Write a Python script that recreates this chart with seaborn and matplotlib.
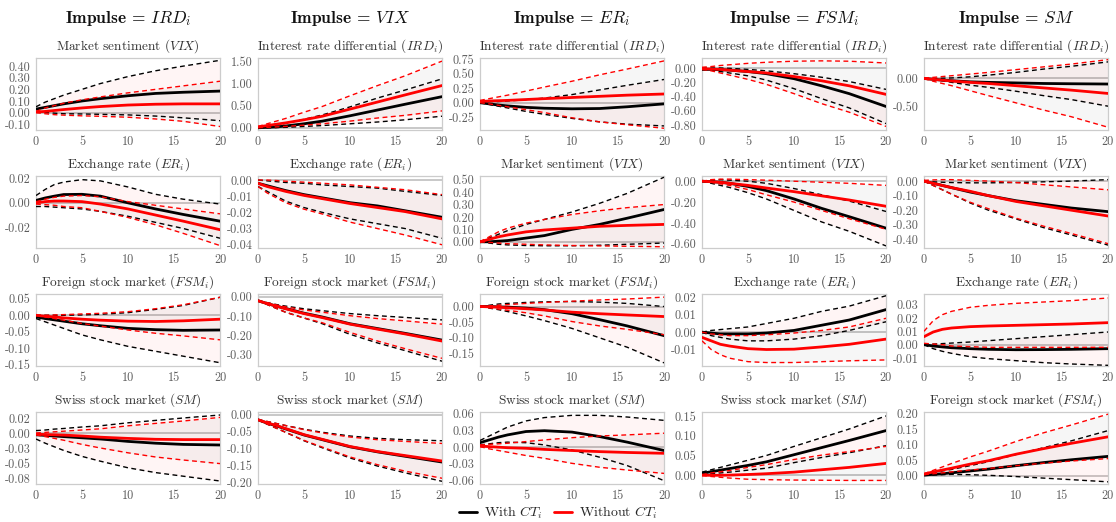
import numpy as np
import pandas as pd
import matplotlib
matplotlib.use("Agg")
import matplotlib.pyplot as plt
from matplotlib.lines import Line2D
from matplotlib.ticker import FixedLocator, FixedFormatter
import seaborn as sns

sns.set_style("white")
plt.rcParams["font.family"] = ["cmr10", "DejaVu Serif"]
plt.rcParams["mathtext.fontset"] = "cm"
plt.rcParams["axes.unicode_minus"] = False

# ---------------- data ----------------
HORIZON = [0, 1, 2, 3, 5, 7, 10, 13, 16, 20]
IMPULSES = [r"$IRD_i$", r"$VIX$", r"$ER_i$", r"$FSM_i$", r"$SM$"]
SERIES = ["With $CT_i$", "Without $CT_i$"]

TITLES = [
    ["Market sentiment ($VIX$)", "Interest rate differential ($IRD_i$)", "Interest rate differential ($IRD_i$)",
     "Interest rate differential ($IRD_i$)", "Interest rate differential ($IRD_i$)"],
    ["Exchange rate ($ER_i$)", "Exchange rate ($ER_i$)", "Market sentiment ($VIX$)",
     "Market sentiment ($VIX$)", "Market sentiment ($VIX$)"],
    ["Foreign stock market ($FSM_i$)", "Foreign stock market ($FSM_i$)", "Foreign stock market ($FSM_i$)",
     "Exchange rate ($ER_i$)", "Exchange rate ($ER_i$)"],
    ["Swiss stock market ($SM$)", "Swiss stock market ($SM$)", "Swiss stock market ($SM$)",
     "Swiss stock market ($SM$)", "Foreign stock market ($FSM_i$)"],
]

# Row 1
R1C1_W_LO = [0.01, 0.0, -0.005, -0.01, -0.012, -0.015, -0.02, -0.03, -0.045, -0.07]
R1C1_W_MED = [0.03, 0.045, 0.06, 0.075, 0.10, 0.12, 0.145, 0.165, 0.175, 0.185]
R1C1_W_HI = [0.05, 0.09, 0.12, 0.15, 0.20, 0.25, 0.31, 0.36, 0.40, 0.45]
R1C1_WO_LO = [0.0, -0.01, -0.018, -0.022, -0.028, -0.032, -0.04, -0.055, -0.075, -0.12]
R1C1_WO_MED = [0.005, 0.01, 0.018, 0.026, 0.04, 0.052, 0.065, 0.072, 0.075, 0.075]
R1C1_WO_HI = [0.01, 0.04, 0.06, 0.08, 0.11, 0.135, 0.17, 0.20, 0.23, 0.27]

R1C2_W_LO = [0.0, 0.0, 0.005, 0.01, 0.03, 0.05, 0.09, 0.13, 0.18, 0.26]
R1C2_W_MED = [0.0, 0.01, 0.02, 0.04, 0.09, 0.15, 0.27, 0.40, 0.53, 0.70]
R1C2_W_HI = [0.01, 0.03, 0.06, 0.10, 0.19, 0.29, 0.47, 0.67, 0.85, 1.10]
R1C2_WO_LO = [0.0, 0.01, 0.02, 0.03, 0.06, 0.09, 0.15, 0.22, 0.28, 0.38]
R1C2_WO_MED = [0.02, 0.05, 0.08, 0.11, 0.18, 0.26, 0.42, 0.58, 0.74, 0.95]
R1C2_WO_HI = [0.03, 0.09, 0.15, 0.21, 0.35, 0.48, 0.72, 0.95, 1.17, 1.50]

R1C3_W_LO = [0.0, -0.03, -0.06, -0.09, -0.15, -0.20, -0.27, -0.33, -0.37, -0.40]
R1C3_W_MED = [0.0, -0.02, -0.04, -0.055, -0.08, -0.095, -0.105, -0.10, -0.07, -0.02]
R1C3_W_HI = [0.02, 0.02, 0.02, 0.03, 0.05, 0.08, 0.14, 0.22, 0.30, 0.40]
R1C3_WO_LO = [0.0, -0.02, -0.045, -0.07, -0.12, -0.17, -0.26, -0.33, -0.38, -0.44]
R1C3_WO_MED = [0.02, 0.03, 0.035, 0.04, 0.055, 0.07, 0.09, 0.11, 0.13, 0.15]
R1C3_WO_HI = [0.04, 0.07, 0.10, 0.13, 0.20, 0.27, 0.37, 0.48, 0.58, 0.72]

R1C4_W_LO = [-0.02, -0.03, -0.05, -0.07, -0.11, -0.17, -0.29, -0.43, -0.56, -0.78]
R1C4_W_MED = [-0.02, -0.02, -0.025, -0.03, -0.05, -0.08, -0.15, -0.25, -0.36, -0.54]
R1C4_W_HI = [0.0, 0.0, 0.0, -0.005, -0.02, -0.04, -0.08, -0.13, -0.19, -0.30]
R1C4_WO_LO = [-0.02, -0.04, -0.07, -0.10, -0.16, -0.23, -0.36, -0.50, -0.62, -0.82]
R1C4_WO_MED = [-0.01, -0.015, -0.02, -0.03, -0.05, -0.07, -0.12, -0.18, -0.25, -0.37]
R1C4_WO_HI = [0.01, 0.02, 0.035, 0.045, 0.065, 0.08, 0.095, 0.10, 0.095, 0.07]

R1C5_W_LO = [0.0, -0.02, -0.04, -0.07, -0.12, -0.16, -0.23, -0.31, -0.38, -0.50]
R1C5_W_MED = [0.0, -0.015, -0.03, -0.04, -0.06, -0.07, -0.08, -0.09, -0.095, -0.10]
R1C5_W_HI = [0.0, 0.0, 0.005, 0.01, 0.03, 0.06, 0.11, 0.17, 0.22, 0.30]
R1C5_WO_LO = [0.0, -0.05, -0.09, -0.13, -0.22, -0.31, -0.44, -0.57, -0.69, -0.88]
R1C5_WO_MED = [0.0, -0.015, -0.03, -0.045, -0.07, -0.09, -0.13, -0.17, -0.21, -0.27]
R1C5_WO_HI = [0.01, 0.02, 0.035, 0.05, 0.08, 0.11, 0.16, 0.21, 0.26, 0.34]

# Row 2
R2C1_W_LO = [-0.003, -0.003, -0.0035, -0.004, -0.005, -0.007, -0.011, -0.016, -0.021, -0.029]
R2C1_W_MED = [0.002, 0.004, 0.0055, 0.0068, 0.007, 0.0055, 0.0, -0.005, -0.0095, -0.015]
R2C1_W_HI = [0.006, 0.011, 0.015, 0.017, 0.019, 0.018, 0.013, 0.007, 0.003, -0.001]
R2C1_WO_LO = [-0.001, -0.0015, -0.002, -0.003, -0.004, -0.007, -0.012, -0.018, -0.025, -0.035]
R2C1_WO_MED = [0.0, 0.001, 0.0015, 0.0015, 0.001, -0.001, -0.005, -0.010, -0.015, -0.022]
R2C1_WO_HI = [0.001, 0.003, 0.0045, 0.0055, 0.006, 0.005, 0.001, -0.002, -0.005, -0.009]

R2C2_W_LO = [-0.004, -0.007, -0.010, -0.013, -0.017, -0.020, -0.024, -0.027, -0.030, -0.036]
R2C2_W_MED = [-0.002, -0.0035, -0.005, -0.0065, -0.009, -0.011, -0.014, -0.016, -0.019, -0.023]
R2C2_W_HI = [0.0, -0.0005, -0.001, -0.0015, -0.002, -0.003, -0.004, -0.005, -0.007, -0.0095]
R2C2_WO_LO = [-0.004, -0.008, -0.011, -0.014, -0.018, -0.021, -0.026, -0.030, -0.034, -0.040]
R2C2_WO_MED = [-0.002, -0.004, -0.0055, -0.007, -0.0095, -0.0115, -0.0145, -0.017, -0.0195, -0.024]
R2C2_WO_HI = [0.0, 0.0, -0.0003, -0.0007, -0.0013, -0.002, -0.003, -0.0045, -0.006, -0.009]

R2C3_W_LO = [0.0, -0.01, -0.02, -0.025, -0.03, -0.032, -0.032, -0.028, -0.02, -0.01]
R2C3_W_MED = [0.0, 0.0, 0.005, 0.01, 0.03, 0.05, 0.10, 0.14, 0.19, 0.26]
R2C3_W_HI = [0.0, 0.03, 0.06, 0.09, 0.14, 0.18, 0.24, 0.31, 0.39, 0.52]
R2C3_WO_LO = [0.0, -0.005, -0.01, -0.015, -0.02, -0.025, -0.03, -0.033, -0.036, -0.04]
R2C3_WO_MED = [0.0, 0.02, 0.04, 0.055, 0.08, 0.095, 0.11, 0.125, 0.132, 0.14]
R2C3_WO_HI = [0.0, 0.04, 0.08, 0.11, 0.15, 0.18, 0.22, 0.25, 0.275, 0.30]

R2C4_W_LO = [0.0, -0.02, -0.04, -0.06, -0.11, -0.17, -0.28, -0.39, -0.48, -0.62]
R2C4_W_MED = [0.0, -0.005, -0.01, -0.02, -0.05, -0.09, -0.17, -0.26, -0.34, -0.45]
R2C4_W_HI = [0.0, 0.01, 0.015, 0.01, 0.0, -0.02, -0.07, -0.13, -0.19, -0.29]
R2C4_WO_LO = [0.0, -0.01, -0.025, -0.04, -0.08, -0.13, -0.20, -0.28, -0.36, -0.46]
R2C4_WO_MED = [0.0, -0.005, -0.01, -0.02, -0.04, -0.065, -0.10, -0.14, -0.18, -0.24]
R2C4_WO_HI = [0.0, 0.015, 0.02, 0.02, 0.015, 0.01, 0.0, -0.01, -0.02, -0.04]

R2C5_W_LO = [0.0, -0.03, -0.06, -0.09, -0.15, -0.20, -0.26, -0.32, -0.37, -0.44]
R2C5_W_MED = [0.0, -0.015, -0.03, -0.045, -0.075, -0.10, -0.135, -0.16, -0.185, -0.21]
R2C5_W_HI = [0.0, -0.005, -0.008, -0.01, -0.012, -0.012, -0.01, -0.005, 0.0, 0.01]
R2C5_WO_LO = [0.0, -0.03, -0.06, -0.09, -0.145, -0.19, -0.255, -0.31, -0.36, -0.43]
R2C5_WO_MED = [0.0, -0.015, -0.03, -0.045, -0.07, -0.10, -0.14, -0.17, -0.20, -0.24]
R2C5_WO_HI = [0.005, 0.008, 0.01, 0.01, 0.005, 0.0, -0.01, -0.025, -0.04, -0.06]

# Row 3
R3C1_W_LO = [-0.01, -0.02, -0.03, -0.04, -0.06, -0.075, -0.095, -0.11, -0.125, -0.145]
R3C1_W_MED = [-0.005, -0.01, -0.014, -0.018, -0.026, -0.032, -0.04, -0.044, -0.046, -0.045]
R3C1_W_HI = [0.0, 0.0, 0.0, 0.0, 0.001, 0.003, 0.008, 0.018, 0.03, 0.055]
R3C1_WO_LO = [0.0, -0.005, -0.01, -0.015, -0.025, -0.033, -0.045, -0.055, -0.063, -0.075]
R3C1_WO_MED = [0.0, -0.003, -0.005, -0.008, -0.012, -0.015, -0.018, -0.019, -0.017, -0.012]
R3C1_WO_HI = [0.0, 0.0, 0.001, 0.002, 0.004, 0.006, 0.011, 0.02, 0.032, 0.055]

R3C2_W_LO = [-0.02, -0.04, -0.06, -0.08, -0.11, -0.14, -0.195, -0.24, -0.28, -0.335]
R3C2_W_MED = [-0.02, -0.035, -0.048, -0.06, -0.085, -0.105, -0.14, -0.165, -0.19, -0.225]
R3C2_W_HI = [-0.02, -0.03, -0.04, -0.048, -0.062, -0.072, -0.087, -0.098, -0.107, -0.12]
R3C2_WO_LO = [-0.02, -0.04, -0.06, -0.08, -0.11, -0.135, -0.185, -0.23, -0.27, -0.32]
R3C2_WO_MED = [-0.02, -0.035, -0.048, -0.062, -0.087, -0.108, -0.142, -0.168, -0.193, -0.23]
R3C2_WO_HI = [-0.02, -0.03, -0.042, -0.052, -0.068, -0.08, -0.098, -0.113, -0.125, -0.142]

R3C3_W_LO = [0.0, -0.005, -0.01, -0.016, -0.03, -0.045, -0.07, -0.10, -0.13, -0.18]
R3C3_W_MED = [0.0, 0.0, -0.001, -0.002, -0.005, -0.01, -0.023, -0.042, -0.062, -0.093]
R3C3_W_HI = [0.0, 0.004, 0.008, 0.01, 0.013, 0.015, 0.016, 0.014, 0.01, 0.0]
R3C3_WO_LO = [0.0, -0.004, -0.008, -0.012, -0.02, -0.03, -0.048, -0.062, -0.073, -0.09]
R3C3_WO_MED = [0.0, -0.001, -0.002, -0.004, -0.007, -0.011, -0.018, -0.023, -0.027, -0.032]
R3C3_WO_HI = [0.0, 0.002, 0.004, 0.006, 0.01, 0.013, 0.017, 0.021, 0.024, 0.03]

R3C4_W_LO = [0.0, -0.002, -0.003, -0.004, -0.005, -0.005, -0.004, -0.002, 0.001, 0.006]
R3C4_W_MED = [0.0, -0.0005, -0.001, -0.001, -0.001, -0.0005, 0.001, 0.004, 0.007, 0.013]
R3C4_W_HI = [0.0, 0.001, 0.0015, 0.002, 0.003, 0.005, 0.008, 0.012, 0.015, 0.021]
R3C4_WO_LO = [-0.005, -0.01, -0.013, -0.015, -0.017, -0.0175, -0.0175, -0.017, -0.0165, -0.016]
R3C4_WO_MED = [-0.003, -0.005, -0.007, -0.008, -0.0095, -0.01, -0.0098, -0.0085, -0.007, -0.004]
R3C4_WO_HI = [0.0, -0.001, -0.0015, -0.002, -0.002, -0.0015, -0.0005, 0.001, 0.003, 0.008]

R3C5_W_LO = [0.0, -0.003, -0.005, -0.0065, -0.009, -0.0105, -0.012, -0.0135, -0.0145, -0.0155]
R3C5_W_MED = [0.0, -0.001, -0.0017, -0.0023, -0.003, -0.0035, -0.0038, -0.0037, -0.0035, -0.003]
R3C5_W_HI = [0.0, 0.0004, 0.0008, 0.0012, 0.002, 0.003, 0.0045, 0.006, 0.0075, 0.0095]
R3C5_WO_LO = [0.001, 0.0005, 0.0, -0.001, -0.0015, -0.002, -0.002, -0.002, -0.002, -0.002]
R3C5_WO_MED = [0.006, 0.0095, 0.0115, 0.0125, 0.0135, 0.014, 0.0145, 0.015, 0.0155, 0.0165]
R3C5_WO_HI = [0.01, 0.018, 0.0225, 0.025, 0.028, 0.0295, 0.031, 0.032, 0.033, 0.035]

# Row 4
R4C1_W_LO = [-0.01, -0.017, -0.023, -0.029, -0.039, -0.047, -0.058, -0.066, -0.072, -0.08]
R4C1_W_MED = [-0.003, -0.004, -0.005, -0.006, -0.008, -0.01, -0.014, -0.017, -0.019, -0.02]
R4C1_W_HI = [0.004, 0.005, 0.0065, 0.0075, 0.01, 0.012, 0.017, 0.021, 0.025, 0.03]
R4C1_WO_LO = [-0.003, -0.006, -0.009, -0.012, -0.019, -0.025, -0.033, -0.04, -0.045, -0.051]
R4C1_WO_MED = [-0.002, -0.0025, -0.003, -0.0035, -0.005, -0.007, -0.009, -0.0105, -0.011, -0.011]
R4C1_WO_HI = [0.0, 0.001, 0.002, 0.003, 0.005, 0.007, 0.012, 0.016, 0.02, 0.026]

R4C2_W_LO = [-0.015, -0.028, -0.04, -0.052, -0.077, -0.098, -0.128, -0.152, -0.172, -0.197]
R4C2_W_MED = [-0.015, -0.025, -0.033, -0.042, -0.06, -0.074, -0.095, -0.11, -0.123, -0.14]
R4C2_W_HI = [-0.015, -0.02, -0.026, -0.032, -0.043, -0.052, -0.063, -0.07, -0.074, -0.077]
R4C2_WO_LO = [-0.015, -0.028, -0.04, -0.052, -0.076, -0.096, -0.125, -0.148, -0.167, -0.188]
R4C2_WO_MED = [-0.015, -0.024, -0.032, -0.041, -0.059, -0.073, -0.094, -0.109, -0.121, -0.137]
R4C2_WO_HI = [-0.015, -0.02, -0.026, -0.032, -0.044, -0.054, -0.066, -0.074, -0.079, -0.085]

R4C3_W_LO = [0.004, 0.006, 0.008, 0.009, 0.008, 0.004, -0.005, -0.018, -0.033, -0.06]
R4C3_W_MED = [0.008, 0.013, 0.018, 0.022, 0.028, 0.0295, 0.027, 0.019, 0.009, -0.006]
R4C3_W_HI = [0.012, 0.02, 0.028, 0.036, 0.047, 0.053, 0.057, 0.057, 0.054, 0.048]
R4C3_WO_LO = [0.001, -0.003, -0.006, -0.009, -0.015, -0.02, -0.029, -0.036, -0.041, -0.047]
R4C3_WO_MED = [0.002, 0.001, 0.0, -0.001, -0.002, -0.004, -0.006, -0.008, -0.0095, -0.011]
R4C3_WO_HI = [0.004, 0.005, 0.006, 0.007, 0.01, 0.013, 0.017, 0.02, 0.022, 0.025]

R4C4_W_LO = [0.002, 0.004, 0.006, 0.008, 0.013, 0.018, 0.032, 0.045, 0.057, 0.075]
R4C4_W_MED = [0.005, 0.009, 0.013, 0.017, 0.025, 0.034, 0.052, 0.07, 0.088, 0.113]
R4C4_W_HI = [0.008, 0.014, 0.02, 0.026, 0.038, 0.05, 0.073, 0.095, 0.117, 0.15]
R4C4_WO_LO = [0.0, -0.003, -0.005, -0.007, -0.01, -0.011, -0.012, -0.0125, -0.013, -0.013]
R4C4_WO_MED = [0.0, 0.0, 0.0, 0.0005, 0.002, 0.004, 0.008, 0.014, 0.02, 0.03]
R4C4_WO_HI = [0.002, 0.006, 0.009, 0.012, 0.02, 0.027, 0.04, 0.051, 0.06, 0.073]

R4C5_W_LO = [0.0, 0.002, 0.003, 0.004, 0.003, 0.001, -0.003, -0.008, -0.013, -0.02]
R4C5_W_MED = [0.002, 0.004, 0.006, 0.009, 0.015, 0.021, 0.032, 0.042, 0.051, 0.062]
R4C5_W_HI = [0.004, 0.01, 0.015, 0.02, 0.032, 0.045, 0.068, 0.09, 0.112, 0.145]
R4C5_WO_LO = [0.003, 0.006, 0.009, 0.012, 0.018, 0.023, 0.032, 0.04, 0.047, 0.055]
R4C5_WO_MED = [0.005, 0.012, 0.018, 0.024, 0.037, 0.048, 0.069, 0.087, 0.104, 0.125]
R4C5_WO_HI = [0.006, 0.017, 0.028, 0.039, 0.06, 0.079, 0.11, 0.138, 0.163, 0.198]

# y-axis ticks / limits per panel
YTICKS = [
    [[-0.1, 0.0, 0.1, 0.2, 0.3, 0.4], [0.0, 0.5, 1.0, 1.5], [-0.25, 0.0, 0.25, 0.5, 0.75],
     [-0.8, -0.6, -0.4, -0.2, 0.0], [-0.5, 0.0]],
    [[-0.02, 0.0, 0.02], [-0.04, -0.03, -0.02, -0.01, 0.0], [0.0, 0.1, 0.2, 0.3, 0.4, 0.5],
     [-0.6, -0.4, -0.2, 0.0], [-0.4, -0.3, -0.2, -0.1, 0.0]],
    [[-0.15, -0.1, -0.05, 0.0, 0.05], [-0.3, -0.2, -0.1, 0.0], [-0.15, -0.1, -0.05, 0.0],
     [-0.01, 0.0, 0.01, 0.02], [-0.01, 0.0, 0.01, 0.02, 0.03]],
    [[-0.075, -0.05, -0.025, 0.0, 0.025], [-0.2, -0.15, -0.1, -0.05, 0.0], [-0.06, -0.03, 0.0, 0.03, 0.06],
     [0.0, 0.05, 0.1, 0.15], [0.0, 0.05, 0.1, 0.15, 0.2]],
]
R4C1_YLABELS = ["-0.08", "-0.05", "-0.03", "0.00", "0.02"]
YLIMS = [
    [(-0.15, 0.47), (-0.05, 1.57), (-0.47, 0.77), (-0.87, 0.14), (-0.93, 0.37)],
    [(-0.037, 0.022), (-0.042, 0.0025), (-0.05, 0.53), (-0.64, 0.05), (-0.46, 0.035)],
    [(-0.155, 0.065), (-0.36, 0.015), (-0.19, 0.04), (-0.0195, 0.022), (-0.016, 0.038)],
    [(-0.085, 0.035), (-0.205, 0.008), (-0.066, 0.063), (-0.022, 0.16), (-0.027, 0.205)],
]
XTICKS = [0, 5, 10, 15, 20]

# ---------------- figure ----------------
W, H = 1116, 522
fig = plt.figure(figsize=(W / 100, H / 100), dpi=100)

COL_LEFT = [36, 258, 480, 702, 924]
AX_W = 184
ROW_TOP = [58, 176, 294, 412]
AX_H = 72

BLACK = "#000000"
RED = "#ff0000"
GRID = "#c8c8c8"
TICKC = "#5c5c5c"

for r in range(4):
    for c in range(5):
        key = f"R{r+1}C{c+1}"
        g = globals()
        w_lo, w_med, w_hi = g[key + "_W_LO"], g[key + "_W_MED"], g[key + "_W_HI"]
        o_lo, o_med, o_hi = g[key + "_WO_LO"], g[key + "_WO_MED"], g[key + "_WO_HI"]

        ax = fig.add_axes([COL_LEFT[c] / W, 1 - (ROW_TOP[r] + AX_H) / H, AX_W / W, AX_H / H])
        ax.axhline(0, color=GRID, lw=1.4, zorder=1)
        ax.fill_between(HORIZON, w_lo, w_hi, color="red", alpha=0.04, lw=0, zorder=1)
        ax.fill_between(HORIZON, o_lo, o_hi, color="black", alpha=0.035, lw=0, zorder=1)

        frames = []
        for model, vals in ((SERIES[0], (w_lo, w_med, w_hi)), (SERIES[1], (o_lo, o_med, o_hi))):
            for kind, v in zip(("lo", "med", "hi"), vals):
                frames.append(pd.DataFrame({"h": HORIZON, "value": v, "model": model, "kind": kind}))
        df = pd.concat(frames, ignore_index=True)

        sns.lineplot(data=df, x="h", y="value", hue="model", style="kind", size="kind",
                     hue_order=SERIES, style_order=["med", "lo", "hi"],
                     palette={SERIES[0]: BLACK, SERIES[1]: RED},
                     dashes={"med": "", "lo": (3.5, 2.5), "hi": (3.5, 2.5)},
                     sizes={"med": 2.0, "lo": 1.0, "hi": 1.0},
                     estimator=None, legend=False, ax=ax, zorder=3)

        ax.set_xlim(0, 20)
        ax.set_ylim(*YLIMS[r][c])
        ax.xaxis.set_major_locator(FixedLocator(XTICKS))
        ax.xaxis.set_major_formatter(FixedFormatter([str(t) for t in XTICKS]))
        yt = YTICKS[r][c]
        ax.yaxis.set_major_locator(FixedLocator(yt))
        if (r, c) == (3, 0):
            ax.yaxis.set_major_formatter(FixedFormatter(R4C1_YLABELS))
        else:
            ax.yaxis.set_major_formatter(FixedFormatter([f"{t:.2f}" for t in yt]))
        ax.set_xlabel("")
        ax.set_ylabel("")
        ax.tick_params(axis="both", labelsize=8.8, colors=TICKC, length=2, width=0.6, pad=2)
        for sp in ax.spines.values():
            sp.set_color("#cccccc")
            sp.set_linewidth(0.9)
        ax.set_title(TITLES[r][c], fontsize=9.6, color="#333333", pad=6)

        if r == 0:
            fig.text((COL_LEFT[c] + AX_W / 2) / W, 1 - 18 / H, "Impulse = " + IMPULSES[c],
                     ha="center", va="center", fontsize=12.5, family="cmb10", color="#111111")

handles = [Line2D([0], [0], color=BLACK, lw=2.0), Line2D([0], [0], color=RED, lw=2.0)]
fig.legend(handles, SERIES, loc="center", bbox_to_anchor=(558 / W, 1 - 513 / H), ncol=2,
           frameon=False, fontsize=10, handlelength=1.3, columnspacing=0.8, handletextpad=0.5,
           borderpad=0.1, borderaxespad=0.0)

fig.savefig("out.png", dpi=100)
